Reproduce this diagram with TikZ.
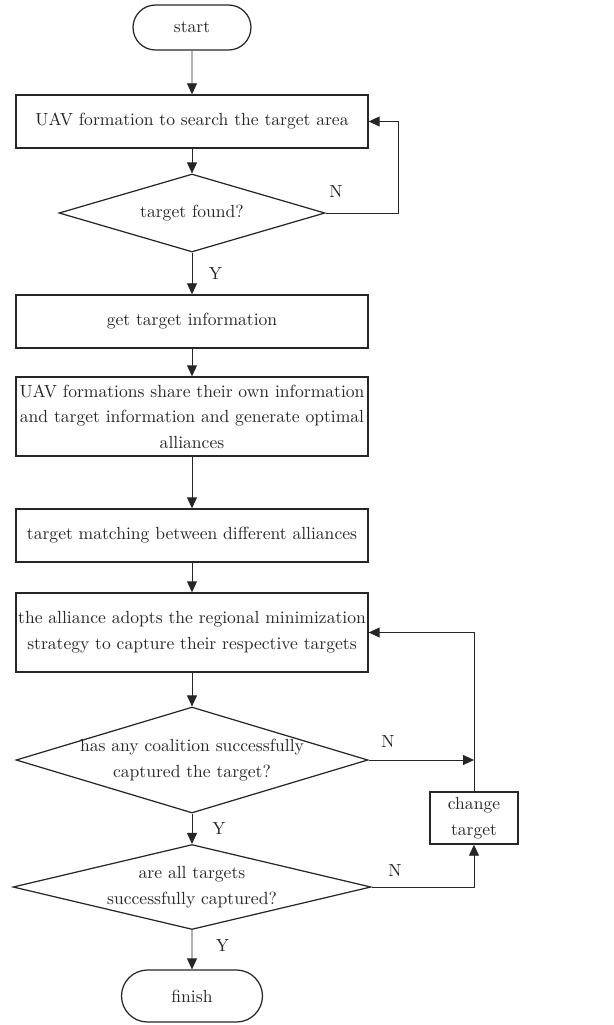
\documentclass[tikz,border=0pt]{standalone}
\usetikzlibrary{shapes.geometric,shapes.misc,arrows.meta}
\begin{document}
\begin{tikzpicture}[x=0.02cm,y=-0.02cm,>={Triangle[length=0.22cm,width=0.2cm]},
    font=\fontsize{10}{14.6}\selectfont,color=black!85,line width=0.5pt,
    box/.style={draw,rectangle,line width=0.8pt,minimum width=7.04cm,inner sep=1pt,align=center},
    decide/.style={draw,diamond,line width=0.7pt,inner sep=-3pt,align=center},
    term/.style={draw,rounded rectangle,line width=0.7pt,inner sep=0pt}]
    \useasboundingbox (0,0) rectangle (614,1025);
    \node[term,minimum width=2.36cm,minimum height=0.9cm] (st) at (192,27.5) {start};
    \node[box,minimum height=1.06cm] (srch) at (192,121.5) {UAV formation to search the target area};
    \node[decide,aspect=3.41,minimum width=5.32cm,minimum height=1.56cm] (fnd) at (192,213) {target found?};
    \node[box,minimum height=1.06cm] (info) at (192,321.5) {get target information};
    \node[box,minimum height=1.58cm] (share) at (192,416.5)
        {UAV formations share their own information\\ and target information and generate optimal\\ alliances};
    \node[box,minimum height=1.06cm] (match) at (192,535.5) {target matching between different alliances};
    \node[box,minimum height=1.58cm] (capt) at (192,632.5)
        {the alliance adopts the regional minimization\\ strategy to capture their respective targets};
    \node[decide,aspect=3.32,minimum width=7.04cm,minimum height=2.12cm] (any) at (192,760)
        {has any coalition successfully\\ captured the target?};
    \node[decide,aspect=4.21,minimum width=7.16cm,minimum height=1.7cm] (all) at (192,887)
        {are all targets\\ successfully captured?};
    \node[box,minimum width=1.76cm,minimum height=1.04cm] (chg) at (474,818) {change\\ target};
    \node[term,minimum width=2.82cm,minimum height=1.04cm] (fin) at (192,996) {finish};
    \coordinate (jn) at (474,760);
    %===========================================
    \draw[->] (st)--(srch);
    \draw[->] (srch)--(fnd);
    \draw[->] (fnd)--(info) node[pos=.5,right=6pt] {Y};
    \draw[->] (fnd.east)--++(73,0)|-(srch.east);
    \node at (336,191) {N};
    \draw[->] (info)--(share);
    \draw[->] (share)--(match);
    \draw[->] (match)--(capt);
    \draw[->] (capt)--(any);
    \draw[->] (any)--(all) node[pos=.5,right=8pt] {Y};
    \draw[->] (any.east)--(jn);
    \node at (388,741) {N};
    \draw[->] (chg.north)|-(capt.east);
    \draw[->] (all.east)-|(chg.south);
    \node at (395,870) {N};
    \draw[->] (all)--(fin) node[pos=.4,right=10pt] {Y};
\end{tikzpicture}
\end{document}
